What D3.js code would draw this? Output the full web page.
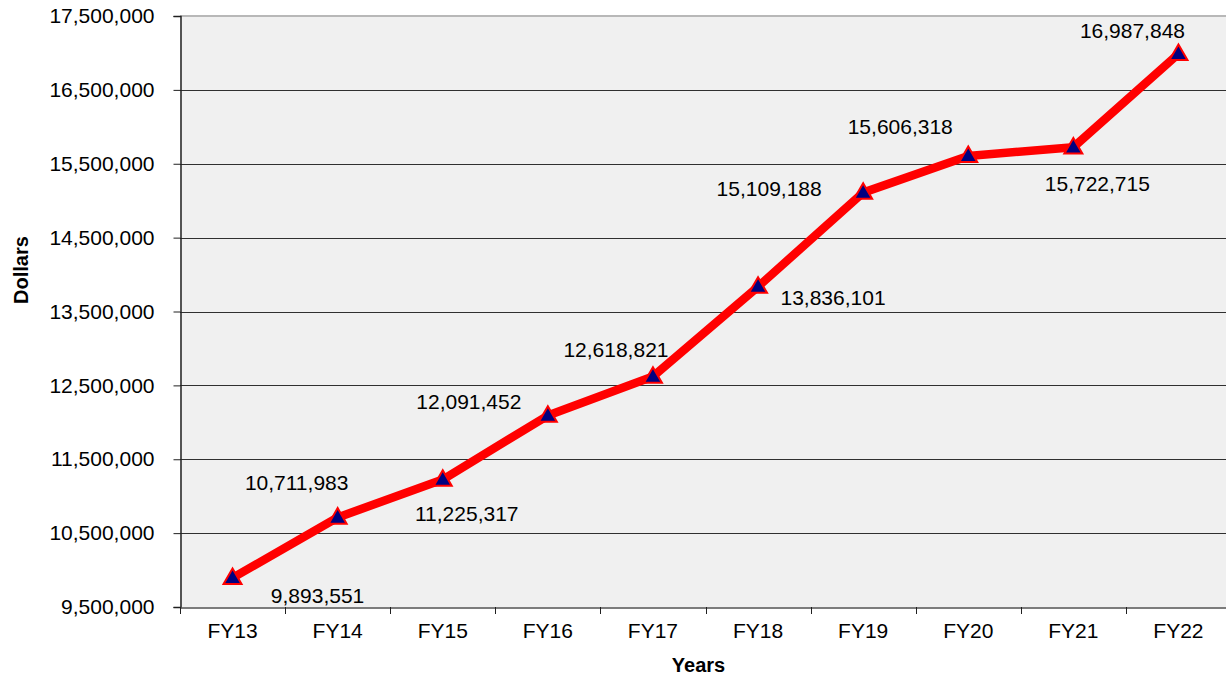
<!DOCTYPE html>
<html>
<head>
<meta charset="utf-8">
<script src="https://cdn.jsdelivr.net/npm/d3@7"></script>
<style>
  html, body { margin: 0; padding: 0; background: #ffffff; overflow: hidden; }
  svg { display: block; }
  text { font-family: "Liberation Sans", Arial, sans-serif; fill: #000; }
</style>
</head>
<body>
<svg id="chart" width="1226" height="679"></svg>
<script>
// ---- data ----
const categories = ["FY13", "FY14", "FY15", "FY16", "FY17", "FY18", "FY19", "FY20", "FY21", "FY22"];
const values = [9893551, 10711983, 11225317, 12091452, 12618821, 13836101, 15109188, 15606318, 15722715, 16987848];
const valueLabels = ["9,893,551", "10,711,983", "11,225,317", "12,091,452", "12,618,821", "13,836,101", "15,109,188", "15,606,318", "15,722,715", "16,987,848"];
const yTicks = [9500000, 10500000, 11500000, 12500000, 13500000, 14500000, 15500000, 16500000, 17500000];
const yDomain = [9500000, 17500000];
const xTitle = "Years";
const yTitle = "Dollars";

// label placement relative to each point (dx, dy in px) — layout only
const labelOffsets = [[85, 18], [-41, -35], [24, 34], [-79, -14], [-37, -27], [75, 11], [-94, -4], [-68, -29], [24, 36], [-46, -23]];

// ---- layout ----
const svg = d3.select("#chart");
const m = { left: 180, top: 16, right: 1231, bottom: 607 };

const x = d3.scaleBand().domain(categories).range([m.left, m.right]).paddingInner(0).paddingOuter(0);
const y = d3.scaleLinear().domain(yDomain).range([m.bottom, m.top]);

// plot background
svg.append("rect")
  .attr("x", m.left).attr("y", m.top)
  .attr("width", m.right - m.left).attr("height", m.bottom - m.top)
  .attr("fill", "#f0f0f0");

// top border
svg.append("line")
  .attr("x1", m.left).attr("x2", m.right)
  .attr("y1", m.top).attr("y2", m.top)
  .attr("stroke", "#b8b8b8").attr("stroke-width", 2);

// gridlines
svg.append("g").selectAll("line")
  .data(yTicks.filter(t => t !== yDomain[0] && t !== yDomain[1]))
  .join("line")
  .attr("x1", m.left).attr("x2", m.right)
  .attr("y1", d => Math.round(y(d)) + 0.5).attr("y2", d => Math.round(y(d)) + 0.5)
  .attr("stroke", "#303030").attr("stroke-width", 1);

// y axis
const yAxis = d3.axisLeft(y).tickValues(yTicks).tickSize(7).tickPadding(19)
  .tickFormat(d3.format(","));
const gy = svg.append("g").attr("transform", `translate(${m.left + 0.5},0)`).call(yAxis);
gy.select(".domain").attr("stroke", "#202020").attr("stroke-width", 1.5);
gy.selectAll(".tick line").attr("stroke", "#202020");
gy.selectAll(".tick text").style("font-size", "21px").attr("fill", "#000")
  .style("font-family", "'Liberation Sans', Arial, sans-serif");

// x axis
const xAxis = d3.axisBottom(x).tickSize(0).tickPadding(16);
const gx = svg.append("g").attr("transform", `translate(0,${m.bottom + 0.5})`).call(xAxis);
gx.select(".domain").attr("stroke", "#505050").attr("stroke-width", 1.5);
gx.selectAll(".tick text").style("font-size", "21px").attr("fill", "#000")
  .style("font-family", "'Liberation Sans', Arial, sans-serif");
// category boundary ticks
svg.append("g").selectAll("line")
  .data(categories)
  .join("line")
  .attr("x1", d => Math.round(x(d)) + 0.5).attr("x2", d => Math.round(x(d)) + 0.5)
  .attr("y1", m.bottom).attr("y2", m.bottom + 7)
  .attr("stroke", "#202020");

// line
const cx = d => x(d) + x.bandwidth() / 2;
const line = d3.line().x((d, i) => cx(categories[i])).y(d => y(d));
svg.append("path")
  .datum(values)
  .attr("d", line)
  .attr("fill", "none")
  .attr("stroke", "#ff0000")
  .attr("stroke-width", 8.5)
  .attr("stroke-linejoin", "round");

// markers
const tri = d3.symbol().type(d3.symbolTriangle).size(140);
svg.append("g").selectAll("path")
  .data(values)
  .join("path")
  .attr("d", tri)
  .attr("transform", (d, i) => `translate(${cx(categories[i])},${y(d) + 1})`)
  .attr("fill", "#000080")
  .attr("stroke", "#ff0000")
  .attr("stroke-width", 2);

// data labels
svg.append("g").selectAll("text")
  .data(values)
  .join("text")
  .attr("x", (d, i) => cx(categories[i]) + labelOffsets[i][0])
  .attr("y", (d, i) => y(d) + labelOffsets[i][1])
  .attr("text-anchor", "middle")
  .attr("dominant-baseline", "central")
  .style("font-size", "21px")
  .text((d, i) => valueLabels[i]);

// axis titles
svg.append("text")
  .attr("x", (m.left + 1217) / 2)
  .attr("y", 665)
  .attr("text-anchor", "middle")
  .attr("dominant-baseline", "central")
  .style("font-size", "20px").style("font-weight", "bold")
  .text(xTitle);

svg.append("text")
  .attr("transform", `translate(21,270) rotate(-90)`)
  .attr("text-anchor", "middle")
  .attr("dominant-baseline", "central")
  .style("font-size", "20px").style("font-weight", "bold")
  .text(yTitle);
</script>
</body>
</html>
